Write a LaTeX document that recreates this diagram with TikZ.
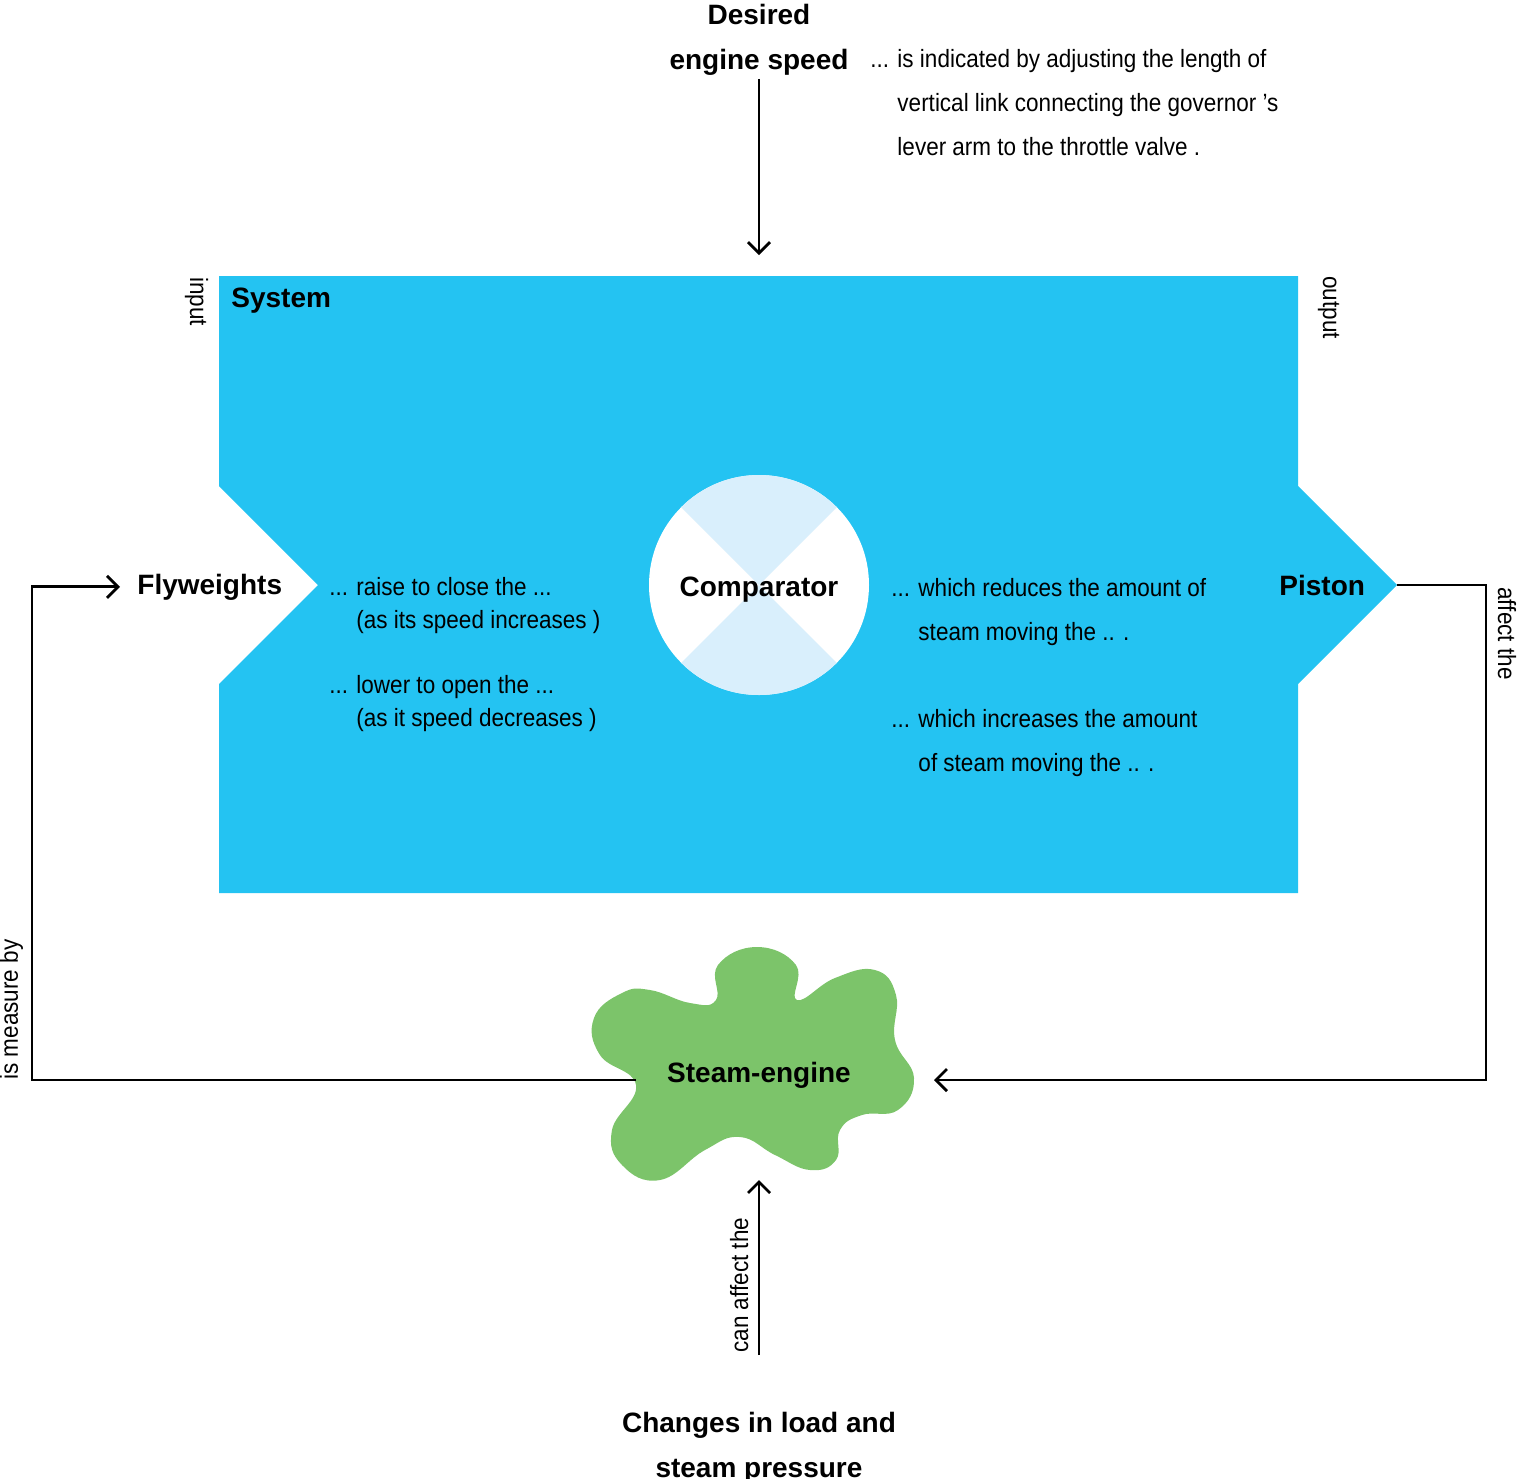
\documentclass[tikz,border=0pt]{standalone}
\usepackage{fontspec}
\setmainfont{Liberation Sans}
\newfontfamily\condfont[FakeStretch=0.9]{Liberation Sans}
\usetikzlibrary{positioning,arrows.meta,calc}
\definecolor{sysblue}{HTML}{24C3F2}
\definecolor{cpale}{HTML}{D9EFFC}
\definecolor{cgreen}{HTML}{7CC46A}
\tikzset{
  lbl/.style={font=\fontsize{14}{22.5}\selectfont\bfseries, inner sep=0pt},
  note/.style={font=\condfont\fontsize{12.5}{22}\selectfont, inner sep=0pt},
  tight/.style={font=\condfont\fontsize{12.5}{16.5}\selectfont, inner sep=0pt},
  sig/.style={-{Straight Barb[length=5.5pt,width=11pt]}, line width=1.4pt},
}

\begin{document}
\begin{tikzpicture}[x=0.5pt, y=-0.5pt]
  \useasboundingbox (0,0) rectangle (1517,1479);

  % system block
  \fill[sysblue] (219,276) -- (1298,276) -- (1298,486) -- (1397,585) -- (1298,684)
    -- (1298,893) -- (219,893) -- (219,684) -- (318,585) -- (219,486) -- cycle;
  \coordinate (ptip) at (1397,585);
  \coordinate (sysN) at (759,255);

  % comparator disc
  \fill[white] (759,585) circle[radius=55pt];
  \fill[cpale] (759,585) -- ++(45:55pt) arc[start angle=45, end angle=135, radius=55pt] -- cycle;
  \fill[cpale] (759,585) -- ++(225:55pt) arc[start angle=225, end angle=315, radius=55pt] -- cycle;

  % steam engine blob
  \fill[cgreen] plot[smooth cycle, tension=0.75] coordinates {
    (716,1000) (718,965) (757,947) (796,965) (797,1000) (835,978) (875,970)
    (896,995) (895,1040) (914,1078) (898,1110) (862,1115) (840,1130) (836,1160)
    (810,1170) (775,1155) (740,1137) (705,1150) (660,1180) (622,1165) (612,1130)
    (636,1085) (600,1055) (594,1018) (622,993) (650,990) (690,1003)};
  \coordinate (engW) at (636,1080);
  \coordinate (engE) at (934,1080);
  \coordinate (engS) at (759,1180);
  \coordinate (leftx) at (32,0);
  \coordinate (rightx) at (1486,0);

  % labels
  \node[lbl, anchor=base] (desired) at (759,24) {\begin{tabular}[t]{@{}c@{}}Desired\\engine speed\end{tabular}};
  \node[lbl, anchor=base west] (sys) at (231,307) {System};
  \node[lbl, anchor=base west] (fly) at (137,594) {Flyweights};
  \node[lbl, anchor=base] (comp) at (759,596) {Comparator};
  \node[lbl, anchor=base west] (piston) at (1279,595) {Piston};
  \node[lbl, anchor=base] (engine) at (759,1082) {Steam-engine};
  \node[lbl, anchor=base] (changes) at (759,1432) {\begin{tabular}[t]{@{}c@{}}Changes in load and\\steam pressure\end{tabular}};

  % notes
  \node[note, anchor=base west] (howset) at (870,67) {\begin{tabular}[t]{@{}l@{ }l@{}}...&is indicated by adjusting the length of\\&vertical link connecting the governor ’s\\&lever arm to the throttle valve .\end{tabular}};
  \node[tight, anchor=base west] (raise) at (329,595) {\begin{tabular}[t]{@{}l@{ }l@{}}...&raise to close the ...\\&(as its speed increases )\end{tabular}};
  \node[tight, anchor=base west] (lower) at (329,693) {\begin{tabular}[t]{@{}l@{ }l@{}}...&lower to open the ...\\&(as it speed decreases )\end{tabular}};
  \node[note, anchor=base west] (reduce) at (891,596) {\begin{tabular}[t]{@{}l@{ }l@{}}...&which reduces the amount of\\&steam moving the .. .\end{tabular}};
  \node[note, anchor=base west] (increase) at (891,727) {\begin{tabular}[t]{@{}l@{ }l@{}}...&which increases the amount\\&of steam moving the .. .\end{tabular}};

  \node[note, rotate=-90, anchor=base west] (inlbl) at (190,277) {input};
  \node[note, rotate=-90, anchor=base west] (outlbl) at (1323,276) {output};
  \node[note, rotate=-90, anchor=base west] (afflbl) at (1498,587) {affect the};
  \node[note, rotate=90, anchor=base west] (measlbl) at (18,1080) {is measure by};
  \node[note, rotate=90, anchor=base west] (canlbl) at (748,1353) {can affect the};

  % connectors
  \draw[sig] ([yshift=2pt]desired.south) -- (sysN);
  \draw[sig] (engW) -- (engW -| leftx) |- ([xshift=-8.5pt]fly.west);
  \draw[sig] (ptip) -- (ptip -| rightx) |- (engE);
  \draw[sig] ([yshift=22.5pt]changes.north) -- (engS);
\end{tikzpicture}
\end{document}
